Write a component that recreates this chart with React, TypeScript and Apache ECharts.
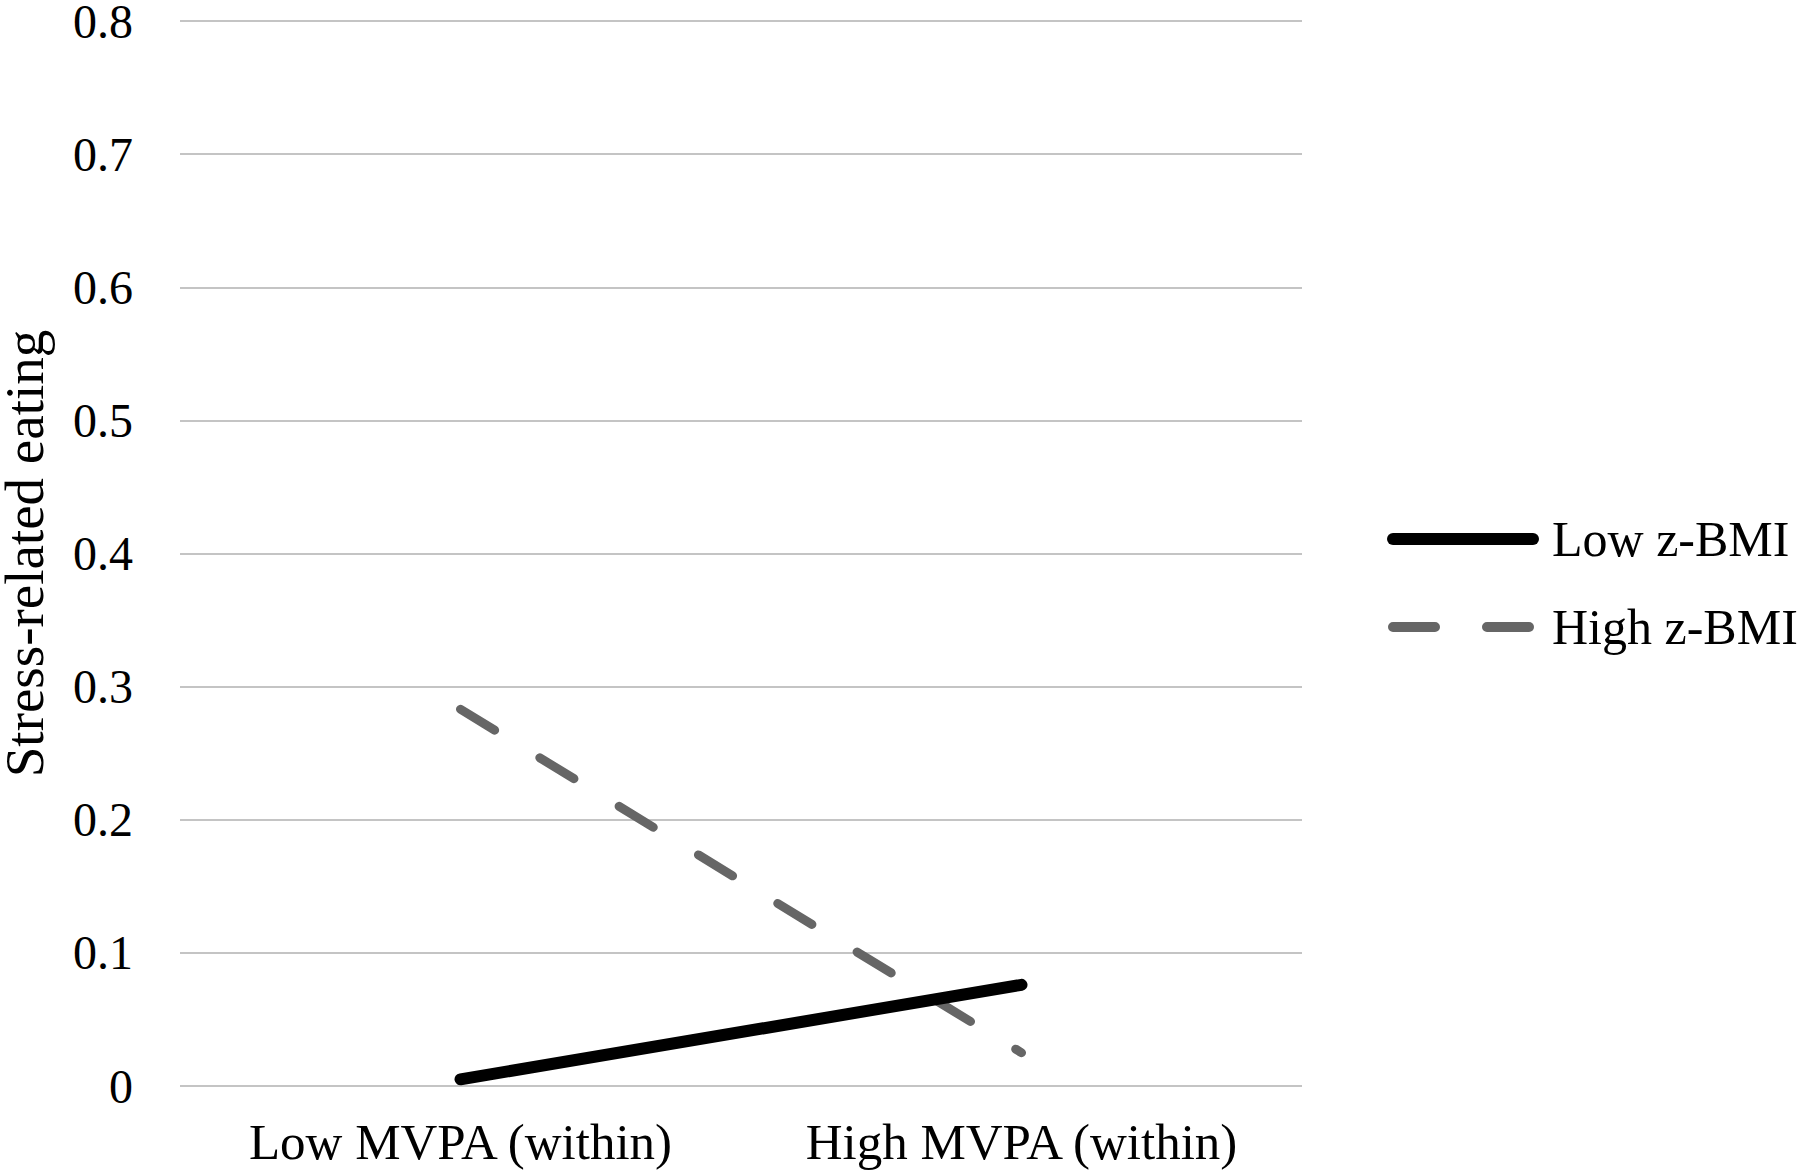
import React, { useEffect, useRef } from "react";
import * as echarts from "echarts";

const categories = ["Low MVPA (within)", "High MVPA (within)"];
const seriesNames = ["Low z-BMI", "High z-BMI"];
const lowZBMI = [0.005, 0.076];
const highZBMI = [0.283, 0.025];
const yTicks = { min: 0, max: 0.8, interval: 0.1 };
const yTitle = "Stress-related eating";

const FONT = "'Liberation Serif', 'Times New Roman', serif";

export default function App() {
  const ref = useRef<HTMLDivElement>(null);
  useEffect(() => {
    if (!ref.current) return;
    const chart = echarts.init(ref.current, null, { renderer: "svg" });
    const legendX1 = 1393;
    const legendX2 = 1533;
    const legendY = [539, 627];
    chart.setOption({
      animation: false,
      backgroundColor: "#ffffff",
      textStyle: { fontFamily: FONT },
      grid: {
        left: 180,
        right: 498,
        top: 21,
        bottom: 86,
        containLabel: false,
        outerBoundsMode: "none",
      },
      xAxis: {
        type: "category",
        data: categories,
        boundaryGap: true,
        axisLine: { show: false },
        axisTick: { show: false },
        axisLabel: {
          color: "#000",
          fontSize: 51,
          fontFamily: FONT,
          margin: 30,
          interval: 0,
          hideOverlap: false,
        },
      },
      yAxis: {
        type: "value",
        min: yTicks.min,
        max: yTicks.max,
        interval: yTicks.interval,
        name: yTitle,
        nameLocation: "middle",
        nameGap: 137,
        nameRotate: 90,
        nameTextStyle: { color: "#000", fontSize: 55, lineHeight: 38, fontFamily: FONT },
        axisLine: { show: false },
        axisTick: { show: false },
        axisLabel: {
          color: "#000",
          fontSize: 48,
          lineHeight: 32,
          fontFamily: FONT,
          margin: 47,
          formatter: (v: number) => (Math.round(v * 10) / 10).toString(),
        },
        splitLine: { show: true, lineStyle: { color: "#c4c4c4", width: 2 } },
      },
      series: [
        {
          name: seriesNames[0],
          type: "line",
          data: lowZBMI,
          symbol: "none",
          lineStyle: { color: "#000000", width: 12, cap: "round" },
          z: 3,
        },
        {
          name: seriesNames[1],
          type: "line",
          data: highZBMI,
          symbol: "none",
          lineStyle: { color: "#666666", width: 9, type: [40, 53], cap: "round" },
          z: 2,
        },
      ],
      graphic: [
        {
          type: "line",
          shape: { x1: legendX1, y1: legendY[0], x2: legendX2, y2: legendY[0] },
          style: { stroke: "#000000", lineWidth: 12, lineCap: "round" },
        },
        {
          type: "line",
          shape: { x1: legendX1, y1: legendY[1], x2: legendX2, y2: legendY[1] },
          style: { stroke: "#666666", lineWidth: 10, lineCap: "round", lineDash: [42, 52] },
        },
        {
          type: "text",
          x: 1552,
          y: legendY[0],
          style: {
            text: seriesNames[0],
            fill: "#000",
            font: `50px ${FONT}`,
            verticalAlign: "middle",
            align: "left",
          },
        },
        {
          type: "text",
          x: 1552,
          y: legendY[1],
          style: {
            text: seriesNames[1],
            fill: "#000",
            font: `50px ${FONT}`,
            verticalAlign: "middle",
            align: "left",
          },
        },
      ],
    });
    return () => chart.dispose();
  }, []);
  return (
    <div
      ref={ref}
      style={{ position: "fixed", left: 0, top: 0, width: 1800, height: 1172 }}
    />
  );
}
